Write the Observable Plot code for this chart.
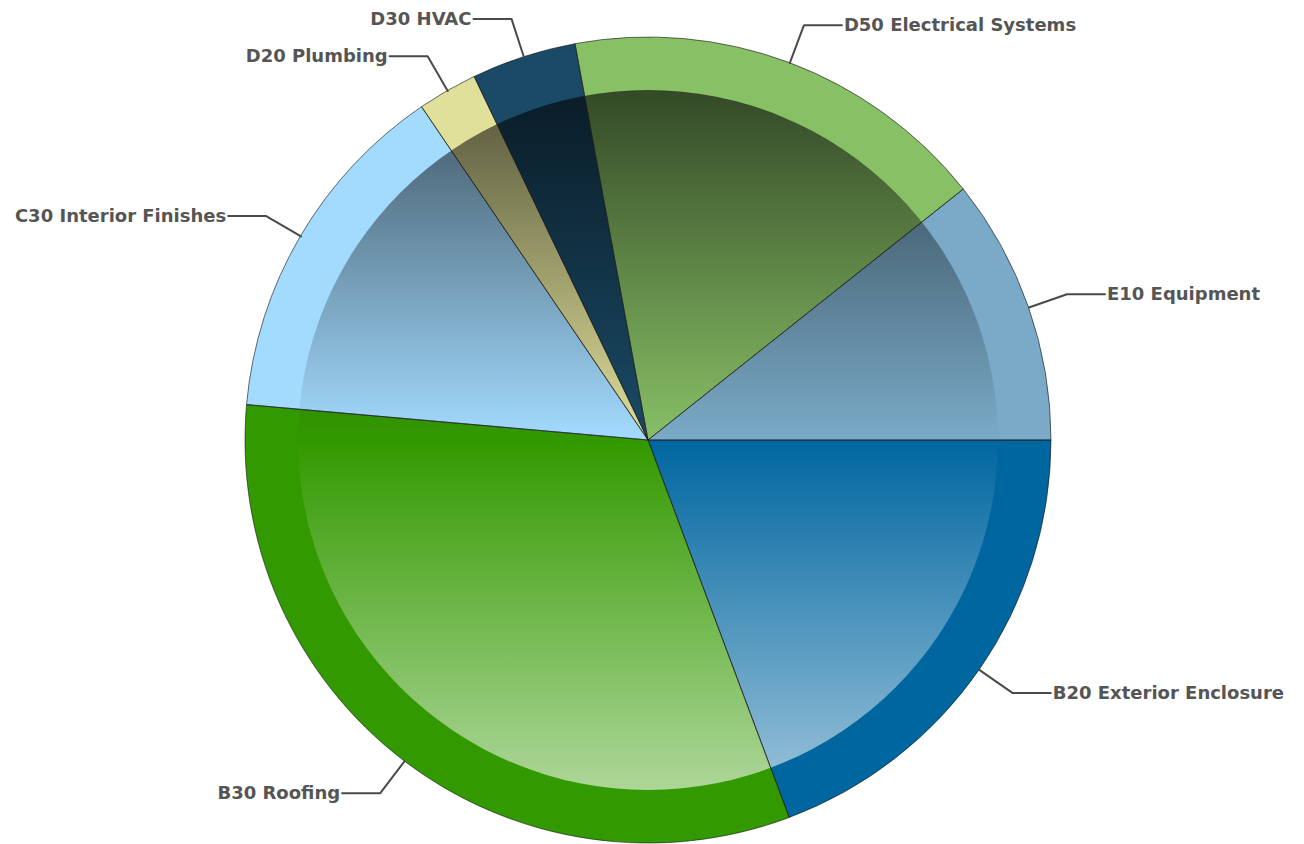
<!DOCTYPE html>
<html>
<head>
<meta charset="utf-8">
<script src="https://cdn.jsdelivr.net/npm/d3@7"></script>
<script src="https://cdn.jsdelivr.net/npm/@observablehq/plot@0.6"></script>
<style>
  html, body { margin: 0; padding: 0; background: #fff; }
  #chart { width: 1304px; height: 844px; }
</style>
</head>
<body>
<div id="chart"></div>
<script>
// ---- data (percent share of total) ----
const categories = ["B20 Exterior Enclosure", "B30 Roofing", "C30 Interior Finishes", "D20 Plumbing", "D30 HVAC", "D50 Electrical Systems", "E10 Equipment"];
const shares = [19.3, 32.1, 14.1, 2.4, 4.2, 17.2, 10.7];
const colors = ["#0066a0", "#339900", "#a3dbff", "#e0e09a", "#1a4a66", "#88c066", "#7aaac7"];

// ---- layout constants ----
const W = 1304, H = 844;
const CX = 648, CY = 440, RPX = 403; // pixel centre / radius
const INNER = 350 / 403;             // inner gradient disc (fraction of R)
const ELBOW = 1.10;                  // leader elbow radius (fraction of R)
const ARM = 38;                      // horizontal arm length (px)

const table = categories.map((c, i) => ({category: c, share: shares[i], color: colors[i]}));
const arcs = d3.pie().value(d => d.share).sort(null)
  .startAngle(Math.PI / 2).endAngle(Math.PI / 2 + 2 * Math.PI)(table);

// leader lines in data units (R = 1); x right, y down
const armU = ARM / RPX;
const leaders = [];
const labels = [];
arcs.forEach(a => {
  const m = (a.startAngle + a.endAngle) / 2;
  const sx = Math.sin(m), sy = -Math.cos(m);
  const right = sx >= 0;
  const ex = sx * ELBOW, ey = sy * ELBOW;
  const hx = ex + (right ? armU : -armU);
  leaders.push({category: a.data.category, x: sx, y: sy});
  leaders.push({category: a.data.category, x: ex, y: ey});
  leaders.push({category: a.data.category, x: hx, y: ey});
  labels.push({category: a.data.category, x: hx, y: ey, anchor: right ? "start" : "end"});
});

// pie rendered through the x/y scales
function pieMark(index, scales, values, dimensions, context) {
  const sx = scales.x, sy = scales.y;
  const cx = sx(0), cy = sy(0);
  const r = sx(1) - sx(0);
  const ri = sx(INNER) - sx(0);
  const g = d3.create("svg:g");
  const defs = g.append("defs");
  const grad = defs.append("linearGradient").attr("id", "innerShade")
    .attr("x1", 0).attr("y1", 0).attr("x2", 0).attr("y2", 1);
  grad.append("stop").attr("offset", "0%").attr("stop-color", "#000").attr("stop-opacity", 0.62);
  grad.append("stop").attr("offset", "50%").attr("stop-color", "#000").attr("stop-opacity", 0);
  grad.append("stop").attr("offset", "50%").attr("stop-color", "#fff").attr("stop-opacity", 0);
  grad.append("stop").attr("offset", "100%").attr("stop-color", "#fff").attr("stop-opacity", 0.6);
  const arc = d3.arc().innerRadius(0).outerRadius(r);
  const root = g.append("g").attr("transform", `translate(${cx},${cy})`);
  root.selectAll("path.slice").data(arcs).join("path")
    .attr("class", "slice").attr("d", arc).attr("fill", d => d.data.color);
  root.append("circle").attr("r", ri).attr("fill", "url(#innerShade)");
  root.selectAll("path.edge").data(arcs).join("path")
    .attr("class", "edge").attr("d", arc).attr("fill", "none")
    .attr("stroke", "#1a1a1a").attr("stroke-opacity", 0.7).attr("stroke-width", 0.9)
    .attr("stroke-linejoin", "round");
  return g.node();
}

const textStyle = {fill: "#555", fontSize: 18, fontWeight: "bold", fontFamily: "DejaVu Sans"};

const chart = Plot.plot({
  width: W, height: H,
  margin: 0,
  x: {domain: [-CX / RPX, (W - CX) / RPX], range: [0, W], axis: null},
  y: {domain: [-CY / RPX, (H - CY) / RPX], range: [0, H], axis: null},
  style: {background: "#fff"},
  marks: [
    pieMark,
    Plot.line(leaders, {x: "x", y: "y", z: "category", stroke: "#4a4a4a", strokeWidth: 2, strokeLinejoin: "miter"}),
    Plot.text(labels.filter(d => d.anchor === "start"), {x: "x", y: "y", text: "category", textAnchor: "start", dx: 2, ...textStyle}),
    Plot.text(labels.filter(d => d.anchor === "end"), {x: "x", y: "y", text: "category", textAnchor: "end", dx: -2, ...textStyle})
  ]
});
document.getElementById("chart").append(chart);
</script>
</body>
</html>
